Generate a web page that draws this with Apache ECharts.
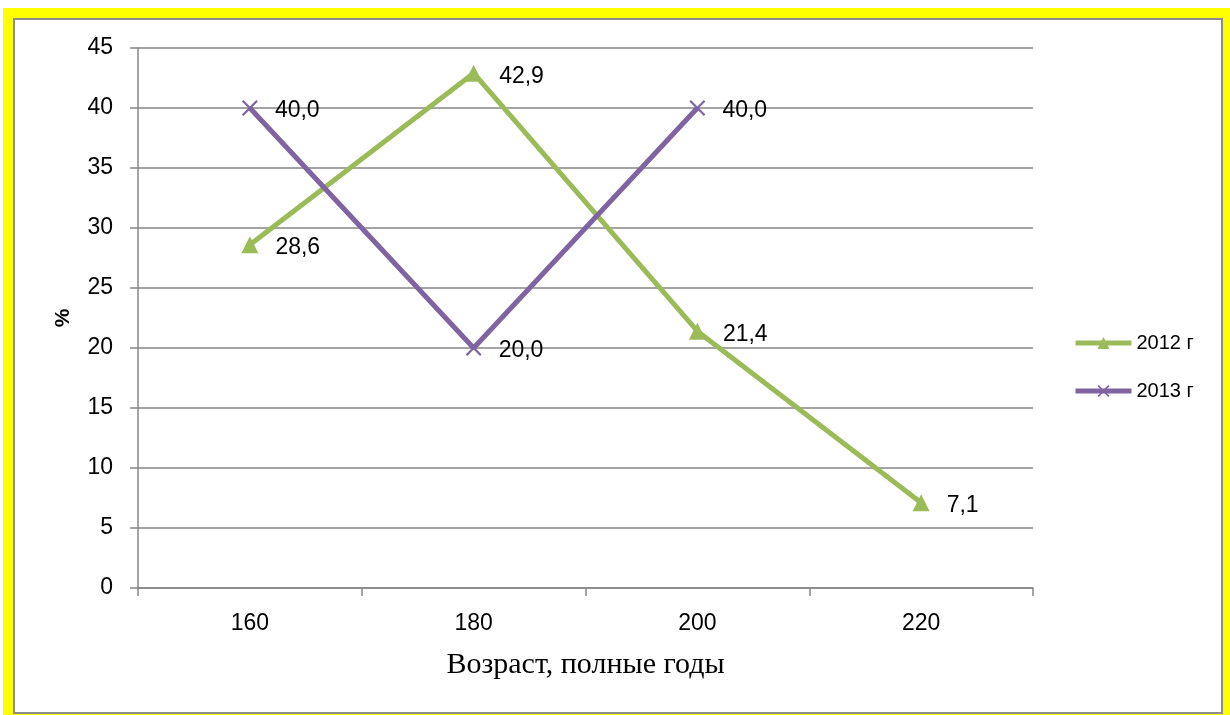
<!DOCTYPE html>
<html><head><meta charset="utf-8">
<script src="https://cdn.jsdelivr.net/npm/echarts@6/dist/echarts.min.js"></script>
<style>html,body{margin:0;padding:0;background:#fff;}#c{width:1230px;height:715px;}</style>
</head><body><div id="c"></div>
<script>
var categories = ['160', '180', '200', '220'];
var series2012 = [28.6, 42.9, 21.4, 7.1];
var series2013 = [40.0, 20.0, 40.0, null];
var seriesNames = ['2012 г', '2013 г'];
var xTitle = 'Возраст, полные годы';
var yTitle = '%';

var FONT = '"Liberation Sans", Arial, sans-serif';
var xSym = 'path://M0,1 L1,0 L5,4 L9,0 L10,1 L6,5 L10,9 L9,10 L5,6 L1,10 L0,9 L4,5 Z';
var chart = echarts.init(document.getElementById('c'), null, {renderer: 'canvas'});
function lbl(v){ return v.value == null ? '' : v.value.toFixed(1).replace('.', ','); }
chart.setOption({
  animation: false,
  backgroundColor: '#fff',
  graphic: [
    {type: 'rect', z: -10, shape: {x: 3, y: 8, width: 1227, height: 712}, style: {fill: '#ffff00'}},
    {type: 'rect', z: -9, shape: {x: 14, y: 19, width: 1208, height: 694}, style: {fill: '#fff', stroke: '#8c8c8c', lineWidth: 2}}
  ],
  grid: {left: 138, right: 197, top: 48, bottom: 127, containLabel: false},
  legend: {
    orient: 'vertical', left: 1073, top: 333, padding: 0, itemWidth: 56, itemHeight: 15, itemGap: 28,
    lineStyle: {width: 5},
    textStyle: {fontFamily: FONT, fontSize: 20, color: '#000'},
    data: seriesNames
  },
  xAxis: {
    type: 'category', data: categories, boundaryGap: true,
    name: xTitle, nameLocation: 'middle', nameGap: 62,
    nameTextStyle: {fontFamily: '"Liberation Serif", "Times New Roman", serif', fontSize: 30, color: '#000'},
    axisLine: {lineStyle: {color: '#868686', width: 1.5}},
    axisTick: {show: true, length: 8, lineStyle: {color: '#868686', width: 1.5}},
    axisLabel: {fontFamily: FONT, fontSize: 23, color: '#000', margin: 24}
  },
  yAxis: {
    type: 'value', min: 0, max: 45, interval: 5,
    name: yTitle, nameLocation: 'middle', nameGap: 64, nameRotate: 90,
    nameTextStyle: {fontFamily: FONT, fontSize: 21, fontWeight: 'bold', color: '#000'},
    axisLine: {show: true, lineStyle: {color: '#868686', width: 1.5}},
    axisTick: {show: true, length: 8, lineStyle: {color: '#868686', width: 1.5}},
    axisLabel: {fontFamily: FONT, fontSize: 23, color: '#000', margin: 25, padding: [3, 0, 0, 0]},
    splitLine: {lineStyle: {color: '#868686', width: 1.5}}
  },
  series: [
    {
      name: seriesNames[0], type: 'line', data: series2012,
      symbol: 'triangle', symbolSize: 17,
      lineStyle: {color: '#9bbb59', width: 5},
      itemStyle: {color: '#9bbb59'},
      label: {show: true, position: 'right', distance: 17, offset: [0, 3], fontFamily: FONT, fontSize: 23, color: '#000', formatter: lbl}
    },
    {
      name: seriesNames[1], type: 'line', data: series2013,
      symbol: xSym, symbolSize: 16,
      lineStyle: {color: '#8064a2', width: 5},
      itemStyle: {color: '#8064a2'},
      label: {show: true, position: 'right', distance: 17, offset: [0, 3], fontFamily: FONT, fontSize: 23, color: '#000', formatter: lbl}
    }
  ]
});
</script></body></html>
